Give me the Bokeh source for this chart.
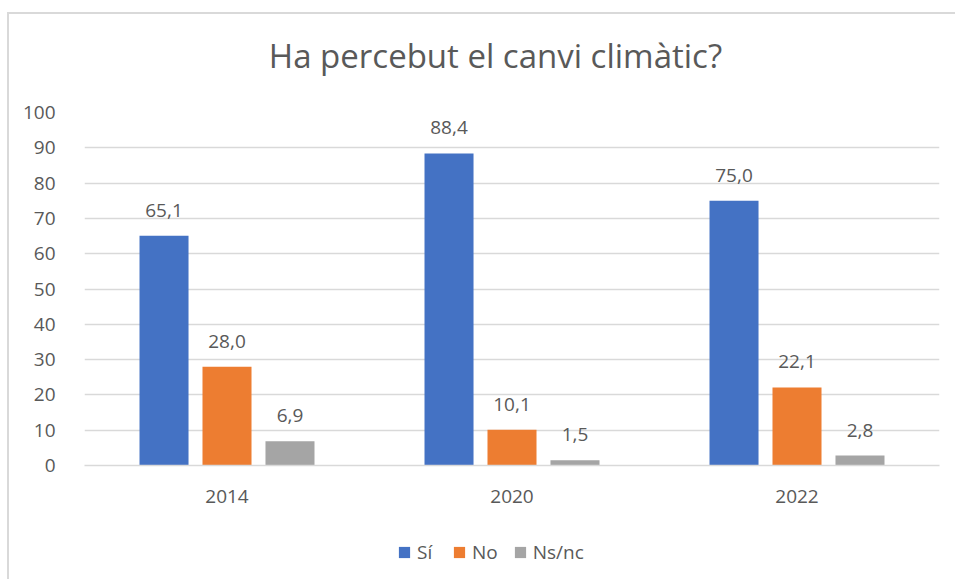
from bokeh.plotting import figure
from bokeh.models import (ColumnDataSource, FactorRange, LabelSet, Label, Legend, LegendItem, Range1d)
from bokeh.layouts import column
from bokeh.transform import dodge
from bokeh.core.properties import value
from bokeh.embed import file_html
from bokeh.resources import INLINE

years = ["2014", "2020", "2022"]
si = [65.1, 88.4, 75.0]
no = [28.0, 10.1, 22.1]
nsnc = [6.9, 1.5, 2.8]
series_names = ["Sí", "No", "Ns/nc"]
colors = ["#4472C4", "#ED7D31", "#A5A5A5"]
y_ticks = list(range(0, 101, 10))
title_text = "Ha percebut el canvi climàtic?"

FONT = "Open Sans"
TXT = "#595959"
W = 946
FRAME_W = 855  # frames of the stacked figures are aligned to the chart frame

def fmt(v):
    return f"{v:.1f}".replace(".", ",")

def blank(fig):
    fig.outline_line_color = None
    fig.background_fill_color = "white"
    fig.border_fill_color = "white"
    fig.xgrid.grid_line_color = None
    fig.ygrid.grid_line_color = None

# ---- title strip ----
TH = 70
tf = figure(width=W, height=TH, x_range=Range1d(0, FRAME_W), y_range=Range1d(0, TH),
            x_axis_location=None, y_axis_location=None, output_backend="svg",
            toolbar_location=None, min_border=0)
blank(tf)
tf.add_layout(Label(x=411, y=29, text=title_text, text_align="center",
                    text_baseline="middle", text_font=FONT, text_font_size="33px",
                    text_color=TXT))

# ---- main chart ----
src = ColumnDataSource(dict(
    year=years, si=si, no=no, nsnc=nsnc,
    si_l=[fmt(v) for v in si], no_l=[fmt(v) for v in no], nsnc_l=[fmt(v) for v in nsnc],
))

p = figure(x_range=FactorRange(*years), y_range=(0, 100), width=W, height=436,
           output_backend="svg", toolbar_location=None,
           min_border_left=75, min_border_right=16, min_border_top=28, min_border_bottom=55)
p.outline_line_color = None
p.background_fill_color = "white"
p.border_fill_color = "white"

offsets = [-0.221, 0.0, 0.221]
cols = ["si", "no", "nsnc"]
for off, col, c in zip(offsets, cols, colors):
    p.vbar(x=dodge("year", off, range=p.x_range), top=col, width=0.172, source=src,
           fill_color=c, line_color=None)
    p.add_layout(LabelSet(x=dodge("year", off, range=p.x_range), y=col, text=col + "_l",
                          source=src, text_align="center", text_baseline="alphabetic",
                          y_offset=19, text_font=value(FONT), text_font_size=value("19px"),
                          text_color=TXT))

p.yaxis.ticker = y_ticks
p.yaxis.axis_line_color = None
p.yaxis.major_tick_line_color = None
p.yaxis.minor_tick_line_color = None
p.yaxis.major_label_standoff = 23
p.yaxis.major_label_text_font = FONT
p.yaxis.major_label_text_font_size = "19px"
p.yaxis.major_label_text_color = TXT

p.xaxis.axis_line_color = "#d9d9d9"
p.xaxis.axis_line_width = 1.5
p.xaxis.major_tick_line_color = None
p.xaxis.minor_tick_line_color = None
p.xaxis.major_label_standoff = 18
p.xaxis.major_label_text_font = FONT
p.xaxis.major_label_text_font_size = "19px"
p.xaxis.major_label_text_color = TXT

p.xgrid.grid_line_color = None
p.ygrid.grid_line_color = "#d9d9d9"
p.ygrid.grid_line_width = 1.5

# ---- legend strip ----
LH = 59
lf = figure(width=W, height=LH, x_range=Range1d(0, FRAME_W), y_range=Range1d(0, LH),
            x_axis_location=None, y_axis_location=None, output_backend="svg",
            toolbar_location=None, min_border=0)
blank(lf)
swatches = [lf.vbar(x=[0], top=[0], width=0, fill_color=c, line_color=None) for c in colors]
legend = Legend(items=[LegendItem(label=n, renderers=[r]) for n, r in zip(series_names, swatches)],
                orientation="horizontal", location=(313, 14),
                glyph_width=14, glyph_height=14, label_standoff=6, spacing=15,
                padding=0, margin=0, border_line_color=None, background_fill_alpha=0,
                label_text_font=FONT, label_text_font_size="19px", label_text_color=TXT)
lf.add_layout(legend, "center")

root = column(tf, p, lf, spacing=0,
              styles={"margin-left": "7px", "margin-top": "12px",
                      "border-left": "2px solid #d9d9d9", "border-top": "2px solid #d9d9d9"})

open("out.html", "w").write(file_html(root, INLINE))
